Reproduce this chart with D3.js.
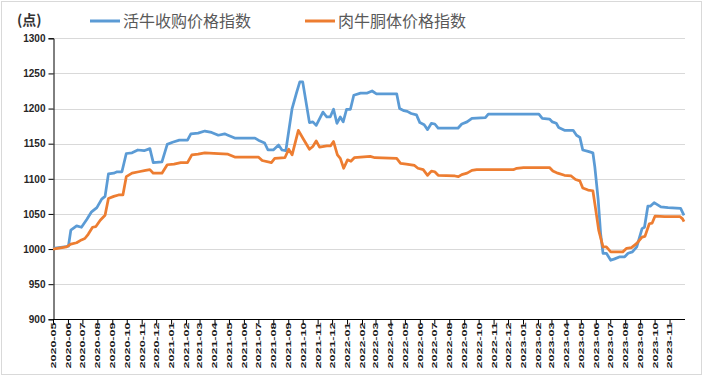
<!DOCTYPE html>
<html>
<head>
<meta charset="utf-8">
<script src="https://cdn.jsdelivr.net/npm/d3@7"></script>
<style>
  body { margin: 0; background: #fff; }
</style>
</head>
<body>
<script>
// values
const seriesNames = ["活牛收购价格指数", "肉牛胴体价格指数"];
const yTicks = [900, 950, 1000, 1050, 1100, 1150, 1200, 1250, 1300];

const liveDates = ["2020-05-01","2020-06-02","2020-06-07","2020-06-19","2020-06-29","2020-07-10","2020-07-20","2020-07-31",
  "2020-08-10","2020-08-17","2020-08-24","2020-09-04","2020-09-11","2020-09-21","2020-09-30","2020-10-12","2020-10-24",
  "2020-11-06","2020-11-18","2020-11-25","2020-12-13","2020-12-24","2021-01-04","2021-01-18","2021-02-04","2021-02-11",
  "2021-02-26","2021-03-12","2021-03-26","2021-04-09","2021-04-22","2021-04-29","2021-05-13","2021-06-24","2021-07-01",
  "2021-07-14","2021-07-21","2021-08-01","2021-08-12","2021-08-19","2021-08-27","2021-09-09","2021-09-18","2021-09-25",
  "2021-10-01","2021-10-15","2021-10-22","2021-10-29","2021-11-12","2021-11-20","2021-11-27","2021-12-04","2021-12-11",
  "2021-12-18","2021-12-24","2021-12-31","2022-01-08","2022-01-15","2022-01-29","2022-02-12","2022-02-22","2022-03-03",
  "2022-04-14","2022-04-20","2022-04-29","2022-05-06","2022-05-14","2022-05-25","2022-06-01","2022-06-10","2022-06-17",
  "2022-06-25","2022-07-02","2022-07-09","2022-07-30","2022-08-19","2022-08-27","2022-09-07","2022-09-17","2022-10-15",
  "2022-10-21","2023-02-03","2023-02-10","2023-02-25","2023-03-03","2023-03-11","2023-03-16","2023-03-28","2023-04-15",
  "2023-04-22","2023-04-29","2023-05-05","2023-05-16","2023-05-26","2023-05-30","2023-06-06","2023-06-11","2023-06-16",
  "2023-06-23","2023-07-02","2023-07-10","2023-07-21","2023-07-31","2023-08-07","2023-08-16","2023-08-25","2023-09-05",
  "2023-09-10","2023-09-17","2023-09-22","2023-09-30","2023-10-14","2023-10-29","2023-11-24","2023-12-01"];
const liveValues = [1001,1004,1027,1033,1031,1042,1053,1059,
  1071,1075,1107,1108,1110,1110,1136,1137,1141,
  1140,1143,1123,1124,1149,1152,1155,1155,1164,
  1165,1168,1166,1162,1164,1162,1158,1158,1155,
  1151,1141,1141,1148,1141,1140,1200,1222,1238,
  1238,1180,1181,1176,1195,1188,1188,1199,1179,
  1188,1181,1199,1199,1219,1222,1222,1225,1221,
  1221,1200,1197,1196,1193,1191,1180,1177,1170,
  1179,1178,1172,1172,1172,1178,1181,1186,1187,
  1192,1192,1186,1185,1181,1179,1173,1169,1169,
  1162,1159,1141,1139,1137,1117,1070,1022,994,
  994,984,986,989,989,994,996,1003,1029,
  1031,1061,1061,1066,1060,1059,1058,1048];

const carcassDates = ["2020-05-01","2020-05-29","2020-06-07","2020-06-19","2020-06-29","2020-07-06","2020-07-13","2020-07-22",
  "2020-07-29","2020-08-07","2020-08-17","2020-08-24","2020-09-04","2020-09-14","2020-09-23","2020-09-30","2020-10-12",
  "2020-10-26","2020-11-09","2020-11-18","2020-11-25","2020-12-13","2020-12-24","2021-01-07","2021-01-21","2021-02-04",
  "2021-02-13","2021-02-26","2021-03-12","2021-04-09","2021-04-29","2021-05-13","2021-07-01","2021-07-09","2021-07-28",
  "2021-08-04","2021-08-25","2021-09-02","2021-09-09","2021-09-22","2021-10-02","2021-10-15","2021-10-22","2021-10-29",
  "2021-11-05","2021-11-20","2021-11-28","2021-12-04","2021-12-12","2021-12-18","2021-12-25","2022-01-02","2022-01-09",
  "2022-01-16","2022-02-18","2022-02-28","2022-04-14","2022-04-22","2022-05-04","2022-05-21","2022-05-28","2022-06-08",
  "2022-06-17","2022-06-25","2022-07-02","2022-07-09","2022-08-13","2022-08-20","2022-08-27","2022-09-07","2022-09-17",
  "2022-09-27","2022-12-12","2022-12-19","2023-01-02","2023-02-25","2023-03-04","2023-03-14","2023-03-28","2023-04-11",
  "2023-04-20","2023-04-29","2023-05-05","2023-05-16","2023-05-26","2023-05-31","2023-06-07","2023-06-16","2023-06-23",
  "2023-07-02","2023-07-27","2023-08-04","2023-08-14","2023-08-25","2023-09-05","2023-09-11","2023-09-20","2023-09-26",
  "2023-10-02","2023-10-22","2023-11-23","2023-11-28","2023-12-01"];
const carcassValues = [1000,1003,1007,1009,1013,1015,1021,1031,
  1032,1041,1048,1072,1075,1077,1077,1103,1108,
  1110,1112,1113,1108,1108,1120,1121,1123,1123,
  1134,1135,1137,1136,1135,1131,1131,1126,1123,
  1129,1130,1142,1134,1169,1157,1142,1146,1154,
  1145,1147,1147,1153,1134,1129,1115,1127,1125,
  1130,1132,1130,1129,1122,1121,1119,1115,1113,
  1105,1111,1110,1105,1104,1103,1106,1108,1112,
  1113,1113,1115,1116,1116,1111,1108,1105,1104,
  1099,1097,1087,1084,1083,1060,1027,1003,1003,
  996,996,1001,1002,1008,1017,1018,1036,1037,
  1047,1046,1046,1043,1039];

const startDate = "2020-05-01";
const endDate = "2023-12-01";

function main(){
    let width = 705;
    let height = 377;
    let parse = d3.timeParse("%Y-%m-%d");
    let colors = ["#5b9bd5", "#ed7d31"];

    let svg = d3.select("body").append("svg")
        .attr("width", width)
        .attr("height", height);

    // outer border
    svg.append("rect")
        .attr("x", 1.5).attr("y", 1.5)
        .attr("width", 700).attr("height", 373)
        .attr("fill", "white")
        .attr("stroke", "#d9d9d9");

    let xScale = d3.scaleTime()
        .domain([parse(startDate), parse(endDate)])
        .range([53, 684]);
    let yScale = d3.scaleLinear()
        .domain([900, 1300])
        .range([319.3, 38.3]);

    // grid lines
    svg.append("g")
        .selectAll("line")
        .data(yTicks.slice(1))
        .enter()
        .append("line")
        .attr("x1", 53)
        .attr("x2", 685)
        .attr("y1", d => Math.round(yScale(d)) + 0.5)
        .attr("y2", d => Math.round(yScale(d)) + 0.5)
        .attr("stroke", "#d9d9d9")
        .attr("stroke-width", 1);

    // y axis
    let yAxis = svg.append("g")
        .attr("transform", "translate(53.5,0)")
        .call(d3.axisLeft(yScale).tickValues(yTicks).tickFormat(d3.format("d")).tickSize(5).tickPadding(3));
    yAxis.select(".domain").attr("stroke", "#000");
    yAxis.selectAll("line").attr("stroke", "#000");
    yAxis.selectAll("text")
        .attr("font-family", "Liberation Sans, Arial, sans-serif")
        .attr("font-weight", "bold")
        .attr("font-size", 10)
        .attr("fill", "#262626");

    // x axis
    let months = d3.timeMonth.range(parse(startDate), parse(endDate));
    let xAxis = svg.append("g")
        .attr("transform", "translate(0,319.5)")
        .call(d3.axisBottom(xScale).tickValues(months).tickFormat(d3.timeFormat("%Y-%m"))
            .tickSize(5).tickSizeOuter(0));
    xAxis.select(".domain").attr("stroke", "#000").attr("d", "M53,0H685");
    xAxis.selectAll("line").attr("stroke", "#000");
    xAxis.selectAll("text")
        .attr("transform", "rotate(-90)")
        .attr("text-anchor", "end")
        .attr("x", -3)
        .attr("y", 0)
        .attr("dy", "0.35em")
        .attr("font-family", "Liberation Sans, Arial, sans-serif")
        .attr("font-weight", "bold")
        .attr("font-size", 7)
        .attr("textLength", 46)
        .attr("lengthAdjust", "spacingAndGlyphs")
        .attr("fill", "#1a1a1a");

    // lines
    let line = d3.line()
        .x(d => xScale(d.date))
        .y(d => yScale(d.value));

    let series = [
        liveDates.map((d, i) => ({date: parse(d), value: liveValues[i]})),
        carcassDates.map((d, i) => ({date: parse(d), value: carcassValues[i]}))
    ];

    svg.append("g")
        .selectAll("path")
        .data(series)
        .enter()
        .append("path")
        .attr("d", line)
        .attr("fill", "none")
        .attr("stroke", (d, i) => colors[i])
        .attr("stroke-width", 2.75)
        .attr("stroke-linejoin", "round");

    // unit label
    svg.append("text")
        .attr("x", 17)
        .attr("y", 25)
        .attr("font-family", "Noto Sans CJK SC, sans-serif")
        .attr("font-size", 14)
        .attr("font-weight", "bold")
        .attr("fill", "#333")
        .text("(点)");

    // legend
    let legend = svg.append("g")
        .selectAll("g")
        .data(seriesNames)
        .enter()
        .append("g")
        .attr("transform", (d, i) => "translate(" + (90 + i * 215) + ",21)");
    legend.append("line")
        .attr("x1", 0).attr("x2", 30)
        .attr("stroke", (d, i) => colors[i])
        .attr("stroke-width", 3);
    legend.append("text")
        .attr("x", 33)
        .attr("dy", "0.35em")
        .attr("font-family", "Noto Sans CJK SC, sans-serif")
        .attr("font-size", 16)
        .attr("fill", "#595959")
        .text(d => d);
}

main();
</script>
</body>
</html>
